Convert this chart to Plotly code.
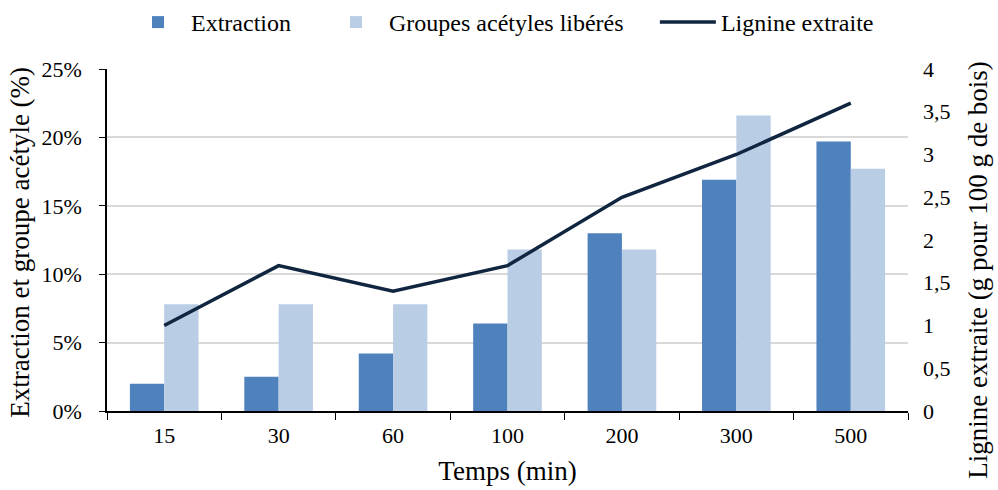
import plotly.graph_objects as go

categories = ["15", "30", "60", "100", "200", "300", "500"]
extraction = [0.020, 0.025, 0.042, 0.064, 0.130, 0.169, 0.197]
acetyles = [0.078, 0.078, 0.078, 0.118, 0.118, 0.216, 0.177]
lignine = [1.0, 1.7, 1.4, 1.7, 2.5, 3.0, 3.6]

FONT = "Times New Roman"
LEG_FONT = dict(family=FONT, size=24, color="black")

fig = go.Figure()
fig.add_trace(go.Bar(x=categories, y=extraction, name="Extraction", legend="legend",
                     marker=dict(color="#4F81BD", line=dict(width=0))))
fig.add_trace(go.Bar(x=categories, y=acetyles, name="Groupes acétyles libérés",
                     legend="legend2",
                     marker=dict(color="#B9CDE5", line=dict(width=0))))
fig.add_trace(go.Scatter(x=categories, y=lignine, name="Lignine extraite", yaxis="y2",
                         legend="legend3",
                         mode="lines", line=dict(color="#10253F", width=3.5)))

def leg(x):
    return dict(orientation="h", x=x, xanchor="left", y=1.0, yanchor="top",
                yref="container", font=LEG_FONT, itemwidth=56,
                bgcolor="rgba(0,0,0,0)")

fig.update_layout(
    width=998, height=490,
    margin=dict(l=107, r=90, t=69, b=79, autoexpand=False),
    paper_bgcolor="white", plot_bgcolor="white",
    font=dict(family=FONT, size=22, color="black"),
    separators=", ",
    barmode="group", bargap=0.4, bargroupgap=0,
    showlegend=True,
    legend=leg(0.0225), legend2=leg(0.2697), legend3=leg(0.684),
    xaxis=dict(type="category", showline=True, linecolor="black", linewidth=1.5,
               ticks="outside", tickson="boundaries", ticklen=7, tickcolor="black",
               ticklabelstandoff=4,
               title=dict(text="Temps (min)", standoff=14, font=dict(size=27)),
               showgrid=False, automargin=False),
    yaxis=dict(range=[0, 0.25], dtick=0.05, tickformat=".0%", showline=True,
               linecolor="black", linewidth=1.5, ticks="outside", ticklen=6,
               tickcolor="black", gridcolor="#D9D9D9", gridwidth=1.5,
               ticklabelstandoff=13, zeroline=False, automargin=False),
    yaxis2=dict(range=[0, 4], dtick=0.5, overlaying="y", side="right",
                showgrid=False, showline=False, zeroline=False, ticks="",
                ticklabelstandoff=14, automargin=False),
    annotations=[
        dict(text="Extraction et groupe acétyle (%)", xref="paper", yref="paper",
             x=-0.109, y=0.494, xanchor="center", yanchor="middle", textangle=-90,
             showarrow=False, font=dict(family=FONT, size=27, color="black")),
        dict(text="Lignine extraite (g pour 100 g de bois)", xref="paper", yref="paper",
             x=1.087, y=0.412, xanchor="center", yanchor="middle", textangle=-90,
             showarrow=False, font=dict(family=FONT, size=27, color="black")),
    ],
)

fig.write_html("out.html", config={"displayModeBar": False},
               post_script="document.body.style.margin='0';")
